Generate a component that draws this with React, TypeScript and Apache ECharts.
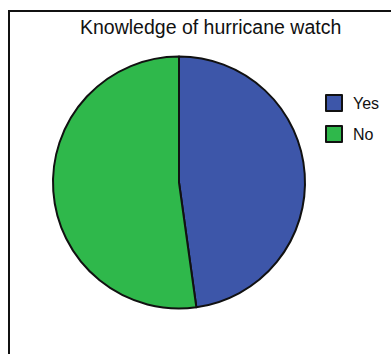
import React, { useEffect, useRef } from "react";
import * as echarts from "echarts";

const titleText = "Knowledge of hurricane watch";
const categories = ["Yes", "No"];
const shares = [47.8, 52.2];
const colors = ["#3D56A9", "#2FB84B"];

export default function App() {
  const ref = useRef<HTMLDivElement>(null);

  useEffect(() => {
    if (!ref.current) return;
    const chart = echarts.init(ref.current, null, { renderer: "svg" });
    chart.setOption({
      animation: false,
      backgroundColor: "#ffffff",
      title: {
        text: titleText,
        left: 80,
        top: 17,
        padding: 0,
        textStyle: {
          fontFamily: "Liberation Sans, Arial, sans-serif",
          fontSize: 19.5,
          fontWeight: "normal",
          color: "#111111",
        },
      },
      legend: {
        orient: "vertical",
        left: 325,
        top: 94,
        padding: 0,
        itemWidth: 16,
        itemHeight: 16,
        itemGap: 13,
        icon: "rect",
        data: categories,
        textStyle: {
          fontFamily: "Liberation Sans, Arial, sans-serif",
          fontSize: 16,
          color: "#111111",
          padding: [0, 0, 0, 6],
        },
        itemStyle: { borderColor: "#111111", borderWidth: 2 },
      },
      graphic: [
        {
          type: "rect",
          shape: { x: 9, y: 11, width: 420, height: 420 },
          style: { fill: "none", stroke: "#111111", lineWidth: 2 },
          silent: true,
        },
      ],
      series: [
        {
          type: "pie",
          center: [179, 182.5],
          radius: 126,
          startAngle: 90,
          clockwise: true,
          label: { show: false },
          labelLine: { show: false },
          emphasis: { disabled: true },
          itemStyle: { borderColor: "#111111", borderWidth: 2 },
          data: categories.map((name, i) => ({
            name,
            value: shares[i],
            itemStyle: { color: colors[i] },
          })),
        },
      ],
    });
    return () => chart.dispose();
  }, []);

  return (
    <div
      ref={ref}
      style={{ position: "fixed", left: 0, top: 0, width: 391, height: 354 }}
    />
  );
}
